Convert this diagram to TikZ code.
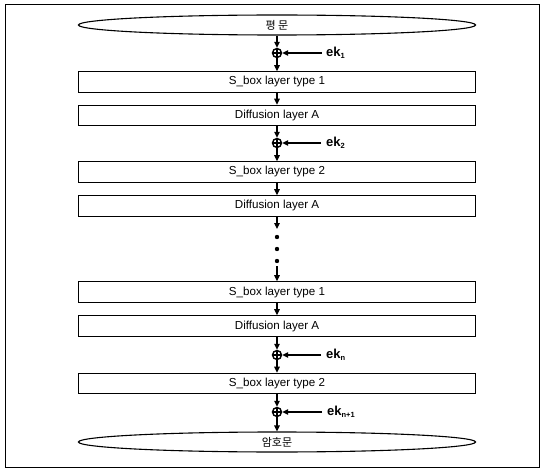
\documentclass[tikz,border=0pt]{standalone}
\usepackage{fontspec}
\setmainfont{Liberation Sans}
\newfontfamily\kor{Noto Sans CJK KR}
\usetikzlibrary{arrows.meta,shapes.geometric}
\begin{document}
\begin{tikzpicture}[x=1pt,y=-1pt,
  layerbox/.style={draw,line width=1.1pt,rectangle,minimum width=397pt,minimum height=20.5pt,inner sep=0pt,font=\fontsize{11.6}{12}\selectfont},
  textoval/.style={draw,line width=1.1pt,ellipse,minimum width=397pt,minimum height=20pt,inner sep=0pt,font=\kor\fontsize{11}{12}\selectfont},
  xorop/.style={draw,line width=1.4pt,circle,minimum size=9pt,inner sep=0pt,
    path picture={\draw[line width=1.1pt] (path picture bounding box.north) -- (path picture bounding box.south)
      (path picture bounding box.west) -- (path picture bounding box.east);}},
  flow/.style={line width=1.1pt,-{Triangle[length=6pt,width=5.5pt]}},
  keylabel/.style={anchor=west,inner sep=0pt,font=\bfseries\fontsize{13}{13}\selectfont},
  dotmark/.style={circle,fill,inner sep=0pt,minimum size=4.4pt}]
\useasboundingbox (0,0) rectangle (541,468);
% outer frame
\draw[line width=0.9pt] (5,4) rectangle (539,467);

% plaintext and ciphertext
\node[textoval] (pt) at (277,25) {평 문};
\node[textoval] (ct) at (277,442) {암호문};

% round layers
\node[layerbox] (s1) at (277,82) {S\_box layer type 1};
\node[layerbox] (d1) at (277,115.5) {Diffusion layer A};
\node[layerbox] (s2) at (277,172) {S\_box layer type 2};
\node[layerbox] (d2) at (277,206) {Diffusion layer A};
\node[layerbox] (s3) at (277,292) {S\_box layer type 1};
\node[layerbox] (d3) at (277,326) {Diffusion layer A};
\node[layerbox] (s4) at (277,383.5) {S\_box layer type 2};

% key additions
\node[xorop] (x1) at (277,53) {};
\node[xorop] (x2) at (277,143) {};
\node[xorop] (x3) at (277,355) {};
\node[xorop] (x4) at (277,412) {};

\coordinate (k1) at (322,53);
\coordinate (k2) at (321,143);
\coordinate (k3) at (321,355);
\coordinate (k4) at (322,412);

\node[keylabel] (l1) at ([xshift=4pt]k1) {ek\textsubscript{\fontsize{7.5}{7.5}\selectfont 1}};
\node[keylabel] (l2) at ([xshift=5pt]k2) {ek\textsubscript{\fontsize{7.5}{7.5}\selectfont 2}};
\node[keylabel] (l3) at ([xshift=5pt]k3) {ek\textsubscript{\fontsize{7.5}{7.5}\selectfont n}};
\node[keylabel] (l4) at ([xshift=5pt]k4) {ek\textsubscript{\fontsize{7.5}{7.5}\selectfont n+1}};

\draw[flow] (k1) -- (x1);
\draw[flow] (k2) -- (x2);
\draw[flow] (k3) -- (x3);
\draw[flow] (k4) -- (x4);

% data path
\draw[flow] (pt) -- (x1);
\draw[flow] (x1) -- (s1);
\draw[flow] (s1) -- (d1);
\draw[flow] (d1) -- (x2);
\draw[flow] (x2) -- (s2);
\draw[flow] (s2) -- (d2);

% omitted rounds
\coordinate (g1) at (277,229);
\coordinate (g2) at (277,266);
\draw[flow] (d2) -- (g1);
\node[dotmark] (p1) at (277,237) {};
\node[dotmark] (p2) at (277,249) {};
\node[dotmark] (p3) at (277,261) {};
\draw[flow] (g2) -- (s3);

\draw[flow] (s3) -- (d3);
\draw[flow] (d3) -- (x3);
\draw[flow] (x3) -- (s4);
\draw[flow] (s4) -- (x4);
\draw[flow] (x4) -- (ct);
\end{tikzpicture}
\end{document}
